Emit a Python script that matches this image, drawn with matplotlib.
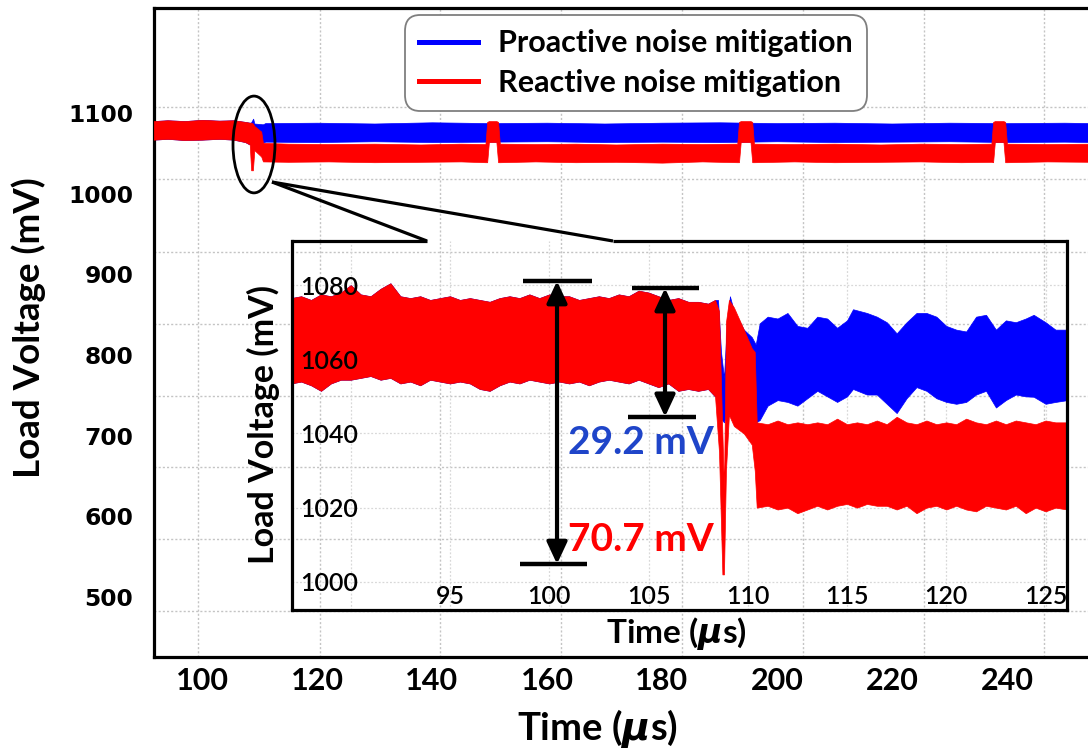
import matplotlib
matplotlib.use("Agg")
import matplotlib.pyplot as plt
from matplotlib.patches import Ellipse, ArrowStyle
from matplotlib.lines import Line2D

plt.rcParams['mathtext.fontset'] = 'custom'
plt.rcParams['mathtext.it'] = 'DejaVu Sans:italic:bold'
plt.rcParams['mathtext.rm'] = 'Lato:bold'

# ---------------- data ----------------
# main plot: envelopes (min / max of the noisy trace) in mV vs time in us
main_pre_t = [91.6, 94, 97, 100, 103, 105.5, 107.5, 108.3]
main_pre_lo = [1067, 1068, 1066.5, 1067, 1068, 1067, 1064, 1061]
main_pre_hi = [1090, 1091, 1090, 1091.5, 1090.5, 1091, 1089, 1088]

main_red_t = [108.55, 108.85, 109.1, 110.3, 110.6, 115, 122, 130, 138, 145,
              149.3, 149.6, 149.9, 151.2, 151.5, 151.8, 158, 165, 172, 180, 187,
              193.1, 193.4, 193.7, 195.4, 195.7, 196.0, 203, 210, 218, 225, 232,
              237.3, 237.6, 237.9, 239.4, 239.7, 240.0, 247, 254.8]
main_red_lo = [1029, 1029, 1054, 1046, 1040, 1039.5, 1040, 1039, 1039.5, 1040,
               1039, 1039, 1064, 1064, 1039, 1039, 1040, 1039, 1039.5, 1038.5, 1040,
               1039, 1039, 1064, 1064, 1039, 1039, 1040, 1039, 1039.5, 1040, 1039,
               1039.5, 1039, 1064, 1064, 1039, 1039, 1040, 1039.5]
main_red_hi = [1088, 1087, 1084, 1077, 1063, 1062, 1061.5, 1062, 1061, 1062,
               1061.5, 1089, 1090, 1090, 1089, 1062, 1061.5, 1062, 1061, 1062, 1061.5,
               1062, 1089, 1090, 1090, 1089, 1062, 1061.5, 1062, 1061, 1062, 1061.5,
               1062, 1089, 1090, 1090, 1089, 1062, 1061.5, 1062]

main_blue_t = [108.5, 108.9, 109.1, 110.6, 111, 120, 130, 140, 150, 160, 170,
               180, 190, 200, 210, 220, 230, 240, 250, 254.8]
main_blue_lo = [1061, 1060, 1062, 1063, 1064.5, 1064, 1065, 1064, 1064.5, 1065, 1064,
                1064.5, 1064, 1065, 1064, 1064.5, 1065, 1064, 1064.5, 1064]
main_blue_hi = [1088, 1093, 1087, 1086, 1087.5, 1088, 1087, 1088.5, 1087.5, 1088, 1087,
                1088, 1088.5, 1087.5, 1088, 1087, 1088, 1087.5, 1088, 1087.5]

# inset (zoom 87-126 us)
in_pre_t = [87.0, 87.5, 88.0, 88.5, 89.0, 89.5, 90.0, 90.5, 91.0, 91.5, 92.0, 92.5,
            93.0, 93.5, 94.0, 94.5, 95.0, 95.5, 96.0, 96.5, 97.0, 97.5, 98.0, 98.5,
            99.0, 99.5, 100.0, 100.5, 101.0, 101.5, 102.0, 102.5, 103.0, 103.5,
            104.0, 104.5, 105.0, 105.5, 106.0, 106.5, 107.0, 107.5, 108.0, 108.35]
in_pre_hi = [1076.5, 1077, 1076, 1077.5, 1077, 1078, 1080, 1077.5, 1077, 1079, 1080.5, 1077,
             1076.5, 1077, 1076, 1076.5, 1077, 1076, 1076.5, 1076, 1075.5, 1076.5, 1077, 1076.5,
             1077.5, 1076.5, 1077.5, 1077, 1077, 1076, 1076.5, 1077, 1076.5, 1077.5,
             1077, 1078.5, 1078, 1077, 1076, 1076.5, 1075.5, 1075.5, 1075, 1076]
in_pre_lo = [1053.5, 1054, 1053, 1051.5, 1053.5, 1054.5, 1054.5, 1055, 1055.5, 1054.5, 1055, 1053.5,
             1054, 1053, 1054.5, 1054, 1053.5, 1054, 1053.5, 1052, 1051.5, 1053, 1054, 1053.5,
             1054.5, 1054, 1053.5, 1054, 1053.5, 1054, 1053, 1054, 1054.5, 1054,
             1053.5, 1054.5, 1053.5, 1052.5, 1053.5, 1051.5, 1052, 1051.5, 1052, 1050]

in_red_t = [108.55, 108.72, 108.8, 108.9, 109.05, 109.3, 109.8, 110.2, 110.35, 110.45,
            111.0, 111.5, 112.0, 112.5, 113.0, 113.5, 114.0, 114.5, 115.0, 115.5,
            116.0, 116.5, 117.0, 117.5, 118.0, 118.5, 119.0, 119.5, 120.0, 120.5,
            121.0, 121.5, 122.0, 122.5, 123.0, 123.5, 124.0, 124.5, 125.0, 125.5, 126.1]
in_red_lo = [1035, 1002, 1002, 1030, 1045, 1042, 1040, 1037, 1030, 1020,
             1020.5, 1019.5, 1020, 1018.5, 1019.5, 1020.5, 1019.5, 1020.5, 1021, 1020,
             1021, 1020.5, 1020.5, 1019.5, 1020.5, 1018.5, 1020, 1020.5, 1019.5, 1020.5,
             1019.5, 1019, 1020.5, 1020, 1019.5, 1020.5, 1018.5, 1020, 1019, 1020, 1019.5]
in_red_hi = [1073, 1040, 1025, 1070, 1076, 1074, 1068, 1063, 1062, 1043,
             1042.5, 1043.5, 1042.5, 1043, 1042.5, 1043, 1042.5, 1044, 1042.5, 1043,
             1042.5, 1043.5, 1042.5, 1044.5, 1043, 1042.5, 1043.5, 1042.5, 1043, 1042.5,
             1044, 1043, 1042.5, 1043.5, 1042.5, 1043.5, 1043, 1042.5, 1043.5, 1043, 1043]

in_blue_t = [108.5, 108.65, 108.8, 108.95, 109.1, 109.3, 109.8, 110.2, 110.4, 110.6,
             111.0, 111.5, 112.0, 112.5, 113.0, 113.5, 114.0, 114.5, 115.0, 115.3,
             116.0, 116.5, 117.0, 117.5, 118.0, 118.5, 119.0, 119.5, 120.0, 120.5,
             121.0, 121.5, 122.0, 122.5, 123.0, 123.5, 124.0, 124.4, 125.0, 125.5, 126.1]
in_blue_lo = [1050, 1044, 1043, 1046, 1050, 1052, 1050, 1046, 1043, 1043.6,
              1047.5, 1049, 1048.5, 1047.5, 1049.5, 1051.5, 1050, 1048.5, 1050, 1052,
              1050.5, 1050.5, 1048, 1045.5, 1049.5, 1052.5, 1051.5, 1049.5, 1048.5, 1048,
              1048.5, 1050.5, 1051.5, 1047, 1049, 1050.5, 1050, 1049.9, 1048, 1048.5, 1049]
in_blue_hi = [1076, 1062, 1055, 1070, 1077, 1073, 1068, 1066, 1064, 1069.7,
              1071.5, 1071, 1072.5, 1069, 1068.5, 1071.5, 1071, 1068.5, 1070.5, 1073.5,
              1072.5, 1071.5, 1070, 1067, 1070, 1072.5, 1072.5, 1071.5, 1069, 1068,
              1067.5, 1071.5, 1072, 1068, 1070.5, 1070, 1071, 1072, 1070, 1068, 1068]

series_names = ["Proactive noise mitigation", "Reactive noise mitigation"]
main_xticks = [100, 120, 140, 160, 180, 200, 220, 240]
main_yticks = [500, 600, 700, 800, 900, 1000, 1100]
inset_xticks = [95, 100, 105, 110, 115, 120, 125]
inset_yticks = [1000, 1020, 1040, 1060, 1080]
big_drop = "70.7 mV"
small_drop = "29.2 mV"

# ---------------- styling ----------------
BLUE = "#0000FF"
RED = "#FF0000"
W, H = 1088, 749


def fx(px):
    return px / W


def fy(py):
    return 1 - py / H


fig = plt.figure(figsize=(W / 100, H / 100), dpi=100)

# ---------------- main axes ----------------
ax = fig.add_axes([fx(154), fy(657), fx(1092) - fx(154), fy(8) - fy(657)])
ax.set_xlim(91.65, 254.8)
ax.set_ylim(425.6, 1230.2)

ax.fill_between(main_pre_t + main_blue_t, main_pre_lo + main_blue_lo,
                main_pre_hi + main_blue_hi, color=BLUE, lw=0.5, zorder=2)
ax.fill_between(main_pre_t + main_red_t, main_pre_lo + main_red_lo,
                main_pre_hi + main_red_hi, color=RED, lw=0.5, zorder=3)

ax.set_xticks(main_xticks)
ax.set_xticklabels([str(v) for v in main_xticks], family="Lato", weight="bold", fontsize=22)
ax.set_yticks(main_yticks)
ax.set_yticklabels([str(v) for v in main_yticks], family="DejaVu Sans", weight="bold", fontsize=16.8)
ax.tick_params(axis="x", length=0, pad=7)
ax.tick_params(axis="y", length=0, pad=15)
# dotted grid (drawn as minor ticks)
ax.set_xticks([99.3, 120.5, 141.4, 162.4, 183.5, 204.5, 225.6, 246.4], minor=True)
ax.set_yticks([1107, 1018, 928, 838, 749, 661, 572, 483], minor=True)
ax.tick_params(which="minor", length=0)
ax.grid(which="minor", color="#c4c4c4", linestyle=(0, (1.5, 1.5)), lw=1.0)
ax.grid(which="major", visible=False)
for s in ["left", "top", "bottom"]:
    ax.spines[s].set_linewidth(2.3)
ax.spines["right"].set_visible(False)

ax.set_xlabel(r"Time ($\mu$s)", family="Lato", weight="bold", fontsize=27.5)
ax.xaxis.label.set_va("center")
ax.xaxis.set_label_coords((598 - 154) / 938, (657 - 729) / 649)
ax.set_ylabel("Load Voltage (mV)", family="Lato", weight="bold", fontsize=26.5)
ax.yaxis.label.set_va("center")
ax.yaxis.label.set_rotation_mode("default")
ax.yaxis.set_label_coords((29 - 154) / 938, (657 - 328) / 649)

handles = [Line2D([], [], color=BLUE, lw=3.6), Line2D([], [], color=RED, lw=3.6)]
leg = ax.legend(handles, series_names, loc="center",
                bbox_to_anchor=(fx(636), fy(63)), bbox_transform=fig.transFigure,
                prop={"family": "Lato", "weight": "bold", "size": 22},
                frameon=True, fancybox=True, edgecolor="#7f7f7f", framealpha=1,
                handlelength=1.95, handletextpad=0.65, labelspacing=0.38,
                borderpad=0.45, borderaxespad=0)
leg.get_frame().set_linewidth(1.3)
leg.get_frame().set_boxstyle("round", pad=0, rounding_size=0.5)
leg.set_zorder(10)

# ellipse marking the zoomed event
ax.add_patch(Ellipse((109.04, 1061), 7.3, 120, fill=False, ec="black", lw=2.0, zorder=6))

# ---------------- inset axes ----------------
ai = fig.add_axes([fx(292), fy(610), fx(1067) - fx(292), fy(241) - fy(610)])
ai.set_facecolor("none")
ai.set_xlim(87.04, 126.08)
ai.set_ylim(992.4, 1091.9)
for gx in [90] + inset_xticks:
    ai.axvline(gx, color="#d8d8d8", linestyle=(0, (1.5, 1.5)), lw=0.9, zorder=0.5)
for gy in inset_yticks:
    ai.axhline(gy, color="#d8d8d8", linestyle=(0, (1.5, 1.5)), lw=0.9, zorder=0.5)
ai.fill_between(in_pre_t + in_blue_t, in_pre_lo + in_blue_lo, in_pre_hi + in_blue_hi,
                color=BLUE, lw=0.5, zorder=2)
ai.fill_between(in_pre_t + in_red_t, in_pre_lo + in_red_lo, in_pre_hi + in_red_hi,
                color=RED, lw=0.5, zorder=3)

ai.set_xticks(inset_xticks)
ai.set_xticklabels([str(v) for v in inset_xticks], family="Lato", weight="semibold", fontsize=18)
ai.set_yticks(inset_yticks)
ai.set_yticklabels([str(v) for v in inset_yticks], family="Lato", weight="semibold", fontsize=18)
ai.tick_params(axis="x", length=0, pad=-4)
ai.tick_params(axis="y", length=0, pad=-6)
for lab in ai.get_xticklabels():
    lab.set_va("baseline")
for lab in ai.get_yticklabels():
    lab.set_ha("left")
ai.xaxis.set_zorder(5)
ai.yaxis.set_zorder(5)
for s in ["left", "right", "bottom"]:
    ai.spines[s].set_linewidth(2.3)
    ai.spines[s].set_zorder(6)
ai.spines["top"].set_visible(False)

ai.set_xlabel(r"Time ($\mu$s)", family="Lato", weight="bold", fontsize=24)
ai.xaxis.label.set_va("center")
ai.xaxis.set_label_coords((676 - 292) / 775, (610 - 633) / 369)
ai.set_ylabel("Load Voltage (mV)", family="Lato", weight="bold", fontsize=24.5)
ai.yaxis.label.set_va("center")
ai.yaxis.label.set_rotation_mode("default")
ai.yaxis.set_label_coords((263 - 292) / 775, (610 - 424) / 369)

# measurement arrows
astyle = ArrowStyle("<|-|>", head_length=0.6, head_width=0.28)
ai.annotate("", xy=(100.39, 1004.8), xytext=(100.39, 1081.1),
            arrowprops=dict(arrowstyle=astyle, color="black", lw=3, mutation_scale=22,
                            shrinkA=0, shrinkB=0), zorder=6)
ai.plot([98.68, 102.15], [1081.1, 1081.1], color="black", lw=3.2, solid_capstyle="butt", zorder=6)
ai.plot([98.53, 101.9], [1004.8, 1004.8], color="black", lw=3.2, solid_capstyle="butt", zorder=6)
ai.annotate("", xy=(105.83, 1044.5), xytext=(105.83, 1079.2),
            arrowprops=dict(arrowstyle=astyle, color="black", lw=3, mutation_scale=22,
                            shrinkA=0, shrinkB=0), zorder=6)
ai.plot([104.17, 107.54], [1079.2, 1079.2], color="black", lw=3.2, solid_capstyle="butt", zorder=6)
ai.plot([103.97, 107.39], [1044.5, 1044.5], color="black", lw=3.2, solid_capstyle="butt", zorder=6)
ai.text(100.95, 1037.7, small_drop, color="#1F45C9", family="Lato", weight="bold",
        fontsize=28, ha="left", va="center", zorder=7)
ai.text(100.95, 1011.3, big_drop, color=RED, family="Lato", weight="bold",
        fontsize=28, ha="left", va="center", zorder=7)

# callout: top edge of the inset box with a pointer toward the ellipse
lw_box = 2.3
for (x0, y0), (x1, y1) in [((290.9, 241), (427, 241)), ((613, 241), (1068.1, 241)),
                           ((427, 241), (272, 182)), ((613, 241), (272, 182))]:
    fig.add_artist(Line2D([fx(x0), fx(x1)], [fy(y0), fy(y1)], color="black", lw=lw_box,
                          solid_capstyle="butt", transform=fig.transFigure, zorder=8))

fig.savefig("out.png", dpi=100)
